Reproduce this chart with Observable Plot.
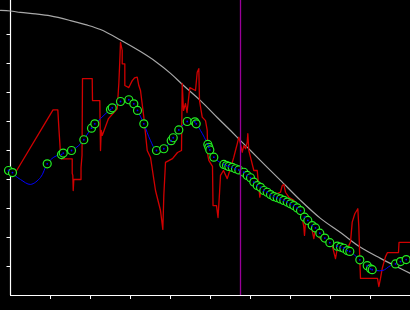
<!DOCTYPE html>
<html><head><meta charset="utf-8">
<script src="https://cdn.jsdelivr.net/npm/d3@7"></script>
<script src="https://cdn.jsdelivr.net/npm/@observablehq/plot@0.6"></script>
<style>html,body{margin:0;padding:0;background:#000;overflow:hidden}</style>
</head><body><div id="chart"></div>
<script>
const xTicks = [10,20,30,40,50,60,70,80,90];
const yTicks = [10,20,30,40,50,60,70,80,90];
const markerX = [57.5];

const grayX = [-2.5,0,2.5,6.25,10,15,18.75,22.5,27.5,32.5,36.25,40,43.25,47.5,51.75,55,57.5,60,63.75,67.5,72.5,77.5,82.5,87.5,92.5,97.5,100];
const grayY = [98.3,98.1,97.6,97.1,96.4,94.8,93.4,91.7,88.1,84.1,80.7,76.6,72.4,67.2,61.3,56.9,53.4,50.0,44.8,39.7,32.8,26.6,21.7,16.6,12.8,9.3,7.6];

const redX = [1.25,10.63,11.83,12.08,12.5,12.68,15.43,15.43,15.58,15.68,
15.83,17.63,17.63,17.88,18.0,20.43,20.5,22.33,22.38,22.5,
22.68,22.93,24.5,26.68,27.08,27.33,27.5,27.93,27.93,28.58,
28.58,29.58,30.43,31.0,31.68,32.08,32.5,33.33,34.18,35.0,
36.25,37.5,38.08,38.33,38.75,40.5,41.75,42.75,42.93,43.25,
43.75,44.13,44.83,46.25,46.68,47.08,47.25,47.93,48.75,49.18,
49.33,49.58,50.5,50.63,51.5,51.88,52.25,52.5,53.25,54.18,
55.0,55.83,56.25,56.68,57.08,57.5,57.93,58.33,58.75,59.18,
59.33,59.58,60.0,60.83,61.68,62.08,62.33,62.68,64.18,66.68,
67.5,67.93,68.33,68.75,69.58,70.83,71.68,72.93,73.33,73.5,
73.75,74.58,75.43,75.83,76.25,77.08,77.93,79.58,80.43,81.25,
81.68,82.5,84.18,84.58,85.0,85.43,86.08,86.83,87.08,87.33,
87.5,91.75,92.08,92.5,92.93,93.75,94.25,97.0,97.13,100];
const redY = [42.4,64.0,64.0,58.0,49.0,47.1,47.1,42.1,41.4,36.2,
40.0,40.0,44.1,48.3,74.8,74.8,67.2,67.2,61.7,50.0,
56.9,55.2,61.0,64.4,73.0,81.0,87.3,84.5,79.9,79.9,
72.4,71.7,74.1,75.0,75.3,72.4,70.7,61.5,50.0,47.6,
36.2,29.3,22.8,34.5,45.9,47.2,49.3,50.0,73.1,63.8,
66.2,63.1,71.7,70.7,77.0,78.2,67.2,61.5,60.3,56.9,
48.3,46.6,44.5,31.0,31.0,26.9,35.2,41.4,43.1,40.3,
43.8,47.7,50.0,52.3,54.6,52.3,49.4,51.7,50.6,52.9,
55.8,50.0,47.7,43.1,43.1,37.3,33.9,37.3,35.6,35.1,
35.6,37.9,38.3,35.6,33.9,32.8,31.0,27.0,23.6,20.7,
25.3,25.9,22.4,19.6,23.0,20.1,19.0,18.4,17.2,12.7,
16.1,15.5,15.5,17.2,18.4,25.3,28.2,29.9,23.6,12.1,
5.9,5.9,3.1,5.9,9.3,13.4,14.8,14.8,18.3,18.3];

const blueX = [0,2.5,5,7.5,9.18,10.83,13.0,15.25,17.5,20.25,
22.5,25.25,27.5,29.58,30.83,31.75,33.33,35.0,36.5,38.33,
40.5,42.08,44.18,46.0,47.5,49.33,50.83,53.25,56.25,58.75,
61.25,63.75,67.5,71.25,73.75,77.5,81.68,84.58,87.33,90.0,
93.0,95.0,97.5,99.0];
const blueY = [42.5,40.0,38.3,40.7,45.4,47.7,49.0,50.0,52.3,57.7,
61.0,64.5,66.9,67.5,66.1,63.8,59.2,53.4,50.0,50.6,
54.0,57.1,60.0,59.8,56.9,52.1,47.7,45.2,43.7,41.7,
38.6,35.9,33.3,30.7,27.0,21.4,17.1,15.5,12.3,9.2,
8.6,10.3,11.7,12.4];

const circX = [-0.5,0.5,9.18,12.75,13.18,15.25,18.33,20.25,21.08,25.0,
25.43,27.5,29.58,30.83,31.75,33.33,36.5,38.33,40.18,40.68,
42.08,44.18,46.08,46.43,49.33,49.58,49.83,50.83,53.33,54.0,
54.58,55.43,56.25,57.08,58.33,59.18,60.0,60.83,61.68,62.5,
63.33,64.18,65.0,65.83,66.68,67.5,68.33,69.18,70.0,70.83,
71.68,72.5,73.5,74.33,75.43,76.25,77.33,78.58,79.83,81.68,
82.5,83.33,84.18,84.83,87.33,89.18,90.0,90.43,96.25,97.5,98.93];
const circY = [43.1,42.4,45.4,48.6,49.1,50.0,53.7,57.7,59.2,64.1,
64.7,66.9,67.5,66.1,63.8,59.2,50.0,50.6,53.4,54.4,
57.1,60.0,59.9,59.2,52.1,51.1,50.2,47.7,45.2,44.8,
44.5,44.2,43.7,43.3,42.5,41.4,40.6,39.1,37.9,37.3,
36.2,35.6,34.8,34.1,33.7,33.3,32.8,32.2,31.6,31.0,
30.2,29.3,27.0,25.9,24.1,23.3,21.5,19.8,18.2,17.0,
16.7,16.3,15.5,15.2,12.3,10.3,9.2,8.9,10.9,11.7,12.4];

const zipXY = (xs, ys) => xs.map((x, i) => ({x, y: ys[i]}));
const gray = zipXY(grayX, grayY);
const red = zipXY(redX, redY);
const blue = zipXY(blueX, blueY);
const circ = zipXY(circX, circY);

const chart = Plot.plot({
  width: 410, height: 310,
  marginLeft: 10, marginRight: 0, marginTop: 0, marginBottom: 15,
  style: {background: "#000", color: "#fff", overflow: "visible"},
  x: {domain: [0, 100]},
  y: {domain: [0, 101.72]},
  marks: [
    Plot.axisX(xTicks, {tickSize: 4, stroke: "#fff", tickFormat: () => "", label: null}),
    Plot.axisY(yTicks, {tickSize: 3.5, stroke: "#fff", tickFormat: () => "", label: null}),
    Plot.ruleX([0], {stroke: "#fff", strokeWidth: 1.2}),
    Plot.ruleY([0], {stroke: "#fff", strokeWidth: 1.2}),
    Plot.line(gray, {x: "x", y: "y", stroke: "#a8a8a8", strokeWidth: 1.2, curve: "catmull-rom"}),
    Plot.line(red, {x: "x", y: "y", stroke: "#d00000", strokeWidth: 1.3}),
    Plot.line(blue, {x: "x", y: "y", stroke: "#0000ff", strokeWidth: 1, curve: "catmull-rom"}),
    Plot.dot(circ, {x: "x", y: "y", r: 4, fill: "#000", stroke: "#22ee22", strokeWidth: 1.2}),
    Plot.dot(circ, {x: "x", y: "y", r: 0.9, fill: "#0000ff", stroke: "none"}),
    Plot.ruleX(markerX, {stroke: "#990099", strokeWidth: 1.3})
  ]
});
document.getElementById("chart").appendChild(chart);
</script>
</body></html>
